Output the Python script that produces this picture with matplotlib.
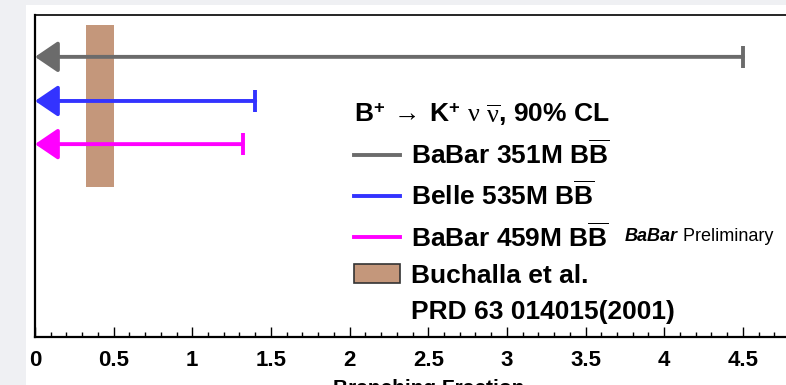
import matplotlib
matplotlib.use("Agg")
import matplotlib.pyplot as plt
from matplotlib.lines import Line2D
from matplotlib.patches import Patch, Rectangle
from matplotlib.text import Annotation

# --- Data: 90% CL upper limits on BF(B+ -> K+ nu nubar), units of 1e-5 ---
experiments = ["BaBar 351M", "Belle 535M", "BaBar 459M"]
upper_limits = [4.5, 1.40, 1.32]
colors = ["#6b6b6b", "#3333ff", "#ff00ff"]
# SM prediction band (Buchalla et al.)
sm_low, sm_high = 0.325, 0.50
tick_vals = [0, 0.5, 1, 1.5, 2, 2.5, 3, 3.5, 4, 4.5]
tick_labels = ["0", "0.5", "1", "1.5", "2", "2.5", "3", "3.5", "4", "4.5"]

# --- Layout (axes fraction) ---
row_y = [0.870, 0.733, 0.599]
band_y = (0.466, 0.969)

plt.rcParams["font.family"] = ["Liberation Sans", "DejaVu Sans"]
plt.rcParams["mathtext.fontset"] = "custom"
plt.rcParams["mathtext.rm"] = "Liberation Serif"
plt.rcParams["mathtext.it"] = "Liberation Serif:italic"
plt.rcParams["mathtext.bf"] = "Liberation Sans:bold"
plt.rcParams["mathtext.sf"] = "Liberation Sans"

W, H = 786, 385
fig = plt.figure(figsize=(W / 100, H / 100), dpi=100, facecolor="#eff0f3")
# white slide panel
panel = Rectangle((26 / W, 0), 1.0, (H - 5) / H, transform=fig.transFigure,
                  facecolor="white", edgecolor="none", zorder=-10)
fig.patches.append(panel)

ax = fig.add_axes([35 / W, 48 / H, 786.5 / W, 322 / H])
ax.set_facecolor("white")
ax.set_xlim(0, 5)
ax.set_ylim(0, 1)

# SM band
ax.axvspan(sm_low, sm_high, ymin=band_y[0], ymax=band_y[1], color="#c4977b", lw=0, zorder=1)

# upper limit arrows
for ul, y, c in zip(upper_limits, row_y, colors):
    ax.annotate("", xy=(0, y), xytext=(ul, y),
                arrowprops=dict(arrowstyle="-|>,head_length=1.4,head_width=0.95",
                                color=c, lw=2.8, shrinkA=0, shrinkB=0,
                                joinstyle="round"),
                zorder=3)
    ax.plot([ul], [y], marker="|", color=c, markersize=16, markeredgewidth=2.8,
            clip_on=False, zorder=3)

# axes styling
ax.spines["right"].set_visible(False)
ax.spines["bottom"].set_linewidth(1.6)
ax.spines["left"].set_linewidth(1.6)
ax.spines["top"].set_linewidth(1.2)
ax.set_yticks([])
ax.set_xticks(tick_vals)
ax.set_xticklabels(tick_labels)
ax.set_xticks([i / 10 for i in range(51)], minor=True)
ax.tick_params(axis="x", which="major", direction="in", length=7, width=1.0, pad=9,
               labelsize=16)
ax.tick_params(axis="x", which="minor", direction="in", length=3.5, width=1.0)
for lbl in ax.get_xticklabels():
    lbl.set_fontweight("bold")
ax.set_xlabel("Branching Fraction", fontsize=15, fontweight="bold", labelpad=6)

# legend
handles = [Line2D([], [], color=c, lw=2.8) for c in colors]
handles.append(Patch(facecolor="#c4977b", edgecolor="#333333", lw=1.2))
handles.append(Line2D([], [], color="none"))
labels = [e + r" B$\mathbf{\overline{B}}$" for e in experiments]
labels += ["Buchalla et al.", "PRD 63 014015(2001)"]
leg = fig.legend(handles, labels, loc="upper left",
                 bbox_to_anchor=(354 / W, (H - 101) / H),
                 frameon=False, prop=dict(size=19, weight="bold"),
                 title=r"B$^{\mathbf{+}}\;\rightarrow\;$K$^{\mathbf{+}}$ $\mathrm{\nu}$ $\overline{\mathrm{\nu}}$, 90% CL",
                 title_fontproperties=dict(size=19, weight="bold"),
                 alignment="left", handlelength=1.75, handletextpad=0.4,
                 labelspacing=0.47, borderpad=0, borderaxespad=0)

t1 = fig.text(625 / W, (H - 241) / H, "BaBar", fontsize=13, fontweight="bold",
              fontstyle="italic", va="baseline")
fig.canvas.draw()
fig.add_artist(Annotation(" Preliminary", xy=(1, 0), xycoords=t1,
                          fontsize=13, va="bottom"))

fig.savefig("out.png", dpi=100, facecolor=fig.get_facecolor())
